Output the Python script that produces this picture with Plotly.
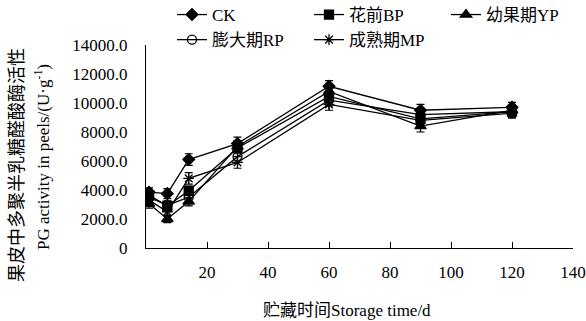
import plotly.graph_objects as go

days = [1, 7, 14, 30, 60, 90, 120]
ck = [3850, 3750, 6100, 7200, 11150, 9500, 9700]
bp = [3650, 2900, 3950, 6900, 10450, 8900, 9400]
yp = [3050, 2000, 3200, 7000, 10800, 8400, 9500]
rp = [3500, 2950, 3500, 6300, 10200, 9200, 9400]
mp = [3300, 2500, 4800, 5900, 9900, 8800, 9300]

ck_err = [300, 350, 400, 450, 400, 400, 350]
bp_err = [300, 300, 300, 400, 400, 350, 350]
yp_err = [300, 250, 300, 400, 400, 400, 350]
rp_err = [300, 300, 300, 400, 400, 350, 350]
mp_err = [300, 300, 400, 400, 400, 350, 350]

names = ["CK", "花前BP", "幼果期YP", "膨大期RP", "成熟期MP"]
symbols = ["diamond", "square", "triangle-up", "circle-open", "asterisk-open"]
sizes = [9, 9, 10, 9, 9]
series = [ck, bp, yp, rp, mp]
errs = [ck_err, bp_err, yp_err, rp_err, mp_err]

xticks = [20, 40, 60, 80, 100, 120, 140]
yticks = [0, 2000, 4000, 6000, 8000, 10000, 12000, 14000]
yticktext = ["0"] + [f"{v}.0" for v in yticks[1:]]

FONT = "Liberation Serif, Times New Roman, Noto Sans CJK SC, serif"

fig = go.Figure()
for name, sym, sz, ys, e in zip(names, symbols, sizes, series, errs):
    fig.add_trace(go.Scatter(
        x=days, y=ys, name=name, mode="lines+markers",
        line=dict(color="black", width=1.3),
        marker=dict(symbol=sym, size=sz, color="black",
                    line=dict(color="black", width=1.3)),
        error_y=dict(type="data", array=e, visible=True, color="black",
                     thickness=1.2, width=4),
    ))

fig.update_layout(
    width=586, height=321,
    margin=dict(l=146, r=13, t=45, b=73, autoexpand=False),
    plot_bgcolor="white", paper_bgcolor="white",
    font=dict(family=FONT, size=17, color="black"),
    showlegend=True,
    legend=dict(orientation="h", x=(172 - 146) / 427, xanchor="left",
                y=(248 + 3) / 203, yanchor="top",
                entrywidth=92, entrywidthmode="pixels",
                font=dict(size=17), bgcolor="rgba(0,0,0,0)",
                tracegroupgap=0, itemwidth=30),
    xaxis=dict(range=[0, 140], tickvals=xticks, ticks="inside", ticklen=6,
               tickcolor="black", showline=True, linecolor="black",
               linewidth=1.3, showgrid=False, zeroline=False,
               ticklabelstandoff=8, tickfont=dict(size=17)),
    yaxis=dict(range=[0, 14000], tickvals=yticks, ticktext=yticktext,
               ticks="", showline=True, linecolor="black", linewidth=1.3,
               showgrid=False, zeroline=False, ticklabelstandoff=14,
               tickfont=dict(size=17)),
    annotations=[
        dict(text="贮藏时间Storage time/d", xref="paper", yref="paper",
             x=(347 - 146) / 427, y=-(310 - 248) / 203, xanchor="center",
             yanchor="middle", showarrow=False, font=dict(size=17)),
        dict(text="果皮中多聚半乳糖醛酸酶活性", xref="paper", yref="paper",
             x=-(146 - 17) / 427, y=(248 - 165) / 203, xanchor="center",
             yanchor="middle", textangle=-90, showarrow=False,
             font=dict(size=18)),
        dict(text="PG activity in peels/(U·g<sup>-1</sup>)", xref="paper",
             yref="paper", x=-(146 - 42) / 427, y=(248 - 157) / 203,
             xanchor="center", yanchor="middle", textangle=-90,
             showarrow=False, font=dict(size=17)),
    ],
)

fig.write_html("out.html", config={"displayModeBar": False},
               post_script="document.body.style.margin='0';")
